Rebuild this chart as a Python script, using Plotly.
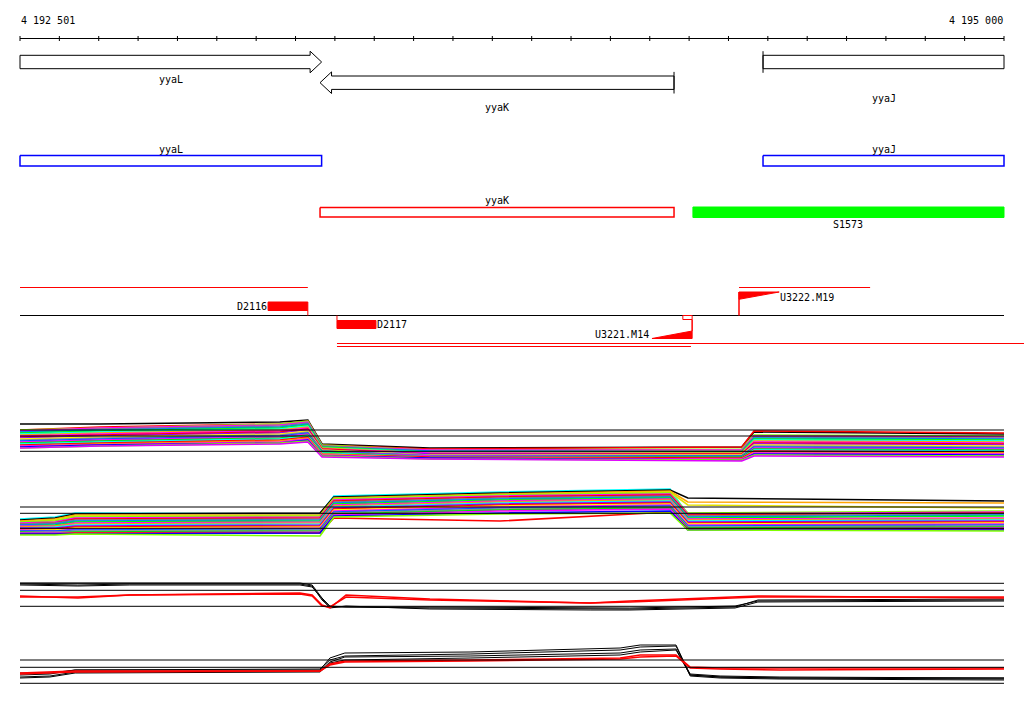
import plotly.graph_objects as go

# ---------------- data ----------------
VIEW_START, VIEW_END = 4192501, 4195000
ruler_labels = ["4 192 501", "4 195 000"]

gene_names = ["yyaL", "yyaK", "yyaJ"]
gene_starts = [4192300, 4193263, 4194388]
gene_ends = [4193267, 4194162, 4195300]
gene_strands = ["+", "-", "+"]

segment_names = ["S1573"]
segment_starts = [4194210]
segment_ends = [4195300]

probe_names = ["D2116", "D2117", "U3221.M14", "U3222.M19"]
probe_starts = [4193131, 4193306, 4194106, 4194327]
probe_ends = [4193232, 4193405, 4194208, 4194429]
probe_strands = ["+", "-", "-", "+"]
probe_kinds = ["block", "block", "ramp", "ramp"]

extent_starts = [4192501, 4193306, 4193306, 4194327]
extent_ends = [4193232, 4195051, 4194205, 4194660]
extent_strands = ["+", "-", "-", "+"]

# expression panel 1
p1_pos = [4192501, 4192704, 4193161, 4193232, 4193268, 4193542, 4194334, 4194365, 4195000]
p1_ref = [40, 34, 18.7]
p1_lines = [
    [46, 46, 48, 50, 26, 22, 23, 38, 36],
    [40, 43, 46, 49, 25, 21, 23, 39, 37],
    [40, 42, 46, 49, 25, 20, 21, 35, 34],
    [39, 42, 45, 48, 24, 20, 20, 34, 33],
    [38, 41, 44, 47, 24, 19, 19, 33, 32],
    [38, 40, 43, 46, 23, 19, 18, 32, 31],
    [37, 39, 42, 45, 23, 18, 18, 31, 30],
    [36, 38, 41, 44, 22, 18, 17, 30, 29],
    [35, 37, 40, 43, 22, 17, 17, 29, 28],
    [34, 36, 39, 42, 21, 17, 16, 28, 27],
    [33, 35, 38, 41, 21, 16, 16, 27, 26],
    [32, 34, 37, 40, 20, 16, 15, 26, 25],
    [31, 33, 36, 39, 20, 15, 15, 25, 24],
    [30, 32, 35, 38, 19, 15, 14, 24, 23],
    [29, 31, 34, 37, 19, 14, 14, 23, 22],
    [28, 30, 33, 36, 18, 14, 13, 22, 21],
    [27, 29, 32, 35, 18, 13, 13, 21, 20],
    [26, 28, 31, 34, 17, 13, 12, 20, 19],
    [25, 27, 30, 33, 16, 13, 12, 19, 18],
    [24, 26, 29, 32, 16, 12, 11, 18, 17],
    [24, 25, 28, 31, 15, 12, 11, 17, 16],
    [23, 25, 27, 30, 14, 12, 10, 16, 15],
    [22, 24, 27, 29, 14, 11, 10, 15, 14],
    [22, 24, 26, 28, 13, 11, 9, 14, 13],
]

# expression panel 2
p2_pos = [4192501, 4192590, 4192641, 4193263, 4193298, 4193720, 4194152, 4194197, 4195000]
p2_ref = [38, 31.7, 16.7]
p2_lines = [
    [26, 28, 32, 31, 49, 53, 56, 30, 32],
    [25, 27, 31, 32, 48, 52, 55, 47, 44],
    [24, 26, 30, 30, 47, 51, 54, 43, 42],
    [23, 25, 29, 29, 46, 50, 53, 40, 37],
    [23, 24, 28, 29, 46, 50, 52, 32, 34],
    [22, 23, 27, 28, 45, 49, 51, 31, 33],
    [21, 22, 26, 27, 44, 48, 50, 30, 32],
    [21, 22, 25, 26, 43, 47, 49, 29, 31],
    [20, 21, 24, 25, 42, 46, 48, 28, 30],
    [19, 20, 23, 24, 41, 45, 47, 27, 29],
    [19, 19, 22, 23, 40, 44, 46, 26, 27],
    [18, 19, 21, 22, 39, 43, 45, 25, 26],
    [17, 18, 20, 21, 38, 42, 44, 24, 25],
    [17, 17, 19, 20, 37, 41, 43, 23, 24],
    [16, 16, 18, 19, 36, 40, 42, 22, 23],
    [15, 15, 17, 18, 35, 39, 41, 21, 22],
    [15, 14, 16, 17, 34, 38, 40, 20, 21],
    [14, 14, 15, 16, 33, 37, 39, 19, 20],
    [13, 13, 14, 15, 32, 36, 38, 18, 19],
    [13, 12, 13, 14, 31, 35, 37, 17, 18],
    [12, 12, 12, 13, 30, 34, 36, 16, 17],
    [11, 11, 12, 12, 27, 24, 33, 16, 16],
    [11, 11, 11, 12, 29, 32, 34, 15, 15],
    [10, 10, 11, 9, 28, 31, 32, 15, 14],
]

# expression panel 3
p3_pos = [4192501, 4192648, 4192780, 4193212, 4193243, 4193268, 4193288, 4193329,
          4193542, 4193949, 4194050, 4194317, 4194375, 4195000]
p3_ref = [31.7, 24.7, 8.7]
p3_black = [
    [31, 30, 31, 31, 29, 15, 8, 8, 7, 6, 6, 8, 15, 16],
    [32, 32, 32, 32, 30, 17, 9, 8, 8, 7, 7, 9, 14, 15],
    [30, 29, 30, 30, 28, 16, 7, 9, 6, 5, 5, 7, 13, 14],
]
p3_red = [
    [18, 18, 20, 22, 20, 10, 7, 20, 16, 12, 14, 18, 19, 17],
    [19, 17, 20, 21, 19, 9, 8, 18, 15, 12, 13, 17, 18, 18],
]

# expression panel 4
p4_pos = [4192501, 4192577, 4192641, 4193263, 4193288, 4193326, 4193644,
          4194025, 4194076, 4194167, 4194203, 4194279, 4194431, 4195000]
p4_ref = [30, 22.7, 6.7]
p4_black = [
    [15, 16, 20, 20, 32, 37, 38, 42, 45, 45, 15, 13, 12, 11],
    [17, 17, 20, 21, 30, 34, 36, 40, 43, 44, 14, 12, 11, 10],
    [13, 14, 18, 19, 28, 33, 34, 37, 40, 41, 16, 14, 13, 12],
    [12, 13, 17, 18, 27, 30, 32, 35, 38, 40, 15, 13, 12, 12],
]
p4_red = [
    [17, 18, 19, 19, 26, 29, 30, 32, 35, 35, 23, 22, 22, 22],
    [16, 17, 18, 19, 25, 28, 29, 31, 33, 34, 22, 21, 20, 21],
]

# ---------------- layout / style ----------------
FIG_W, FIG_H = 1024, 714
PX_LEFT, PX_RIGHT = 20, 1004
BP_PER_PX = (VIEW_END - VIEW_START) / (PX_RIGHT - PX_LEFT)
X_MIN = VIEW_START - PX_LEFT * BP_PER_PX
X_MAX = X_MIN + FIG_W * BP_PER_PX
FONT = dict(family="DejaVu Sans Mono", size=10, color="black")

p1_colors = ["#000000", "#ff0000", "#80ff00", "#ff00ff", "#808080", "#0080ff",
             "#00ff00", "#00ffff", "#ffa500", "#ff00ff", "#ff0000", "#9000ff",
             "#ffff00", "#909090", "#0060ff", "#ff00ff", "#00e000", "#00ffff",
             "#ff0000", "#ff9900", "#ff00ff", "#0000ff", "#80ff00", "#e000ff"]
p2_colors = ["#00ffff", "#000000", "#ffa500", "#e0e000", "#80ff00", "#ff00ff",
             "#ff0000", "#808080", "#0080ff", "#00ff00", "#ff00ff", "#ff9900",
             "#00ffff", "#9000ff", "#ff0000", "#ffff00", "#ff00ff", "#0060ff",
             "#909090", "#00e000", "#ff00ff", "#ff0000", "#0000ff", "#80ff00"]

fig = go.Figure()
annotations = []


def seg(x0, x1, y0, y1, color="black", width=1, yaxis="y"):
    fig.add_trace(go.Scatter(x=[x0, x1], y=[y0, y1], mode="lines",
                             line=dict(color=color, width=width),
                             hoverinfo="skip", showlegend=False, yaxis=yaxis))


def poly(xs, ys, fill, line_color, width=1):
    fig.add_trace(go.Scatter(x=xs + [xs[0]], y=ys + [ys[0]], mode="lines",
                             fill="toself", fillcolor=fill,
                             line=dict(color=line_color, width=width),
                             hoverinfo="skip", showlegend=False))


def label(x, y, text, xanchor="center"):
    annotations.append(dict(x=x, y=y, xref="x", yref="y", text=text, showarrow=False,
                            xanchor=xanchor, yanchor="middle", font=FONT, borderpad=0))


def clip(v):
    return min(max(v, VIEW_START), VIEW_END)


# ruler
RULER_Y = 38.5
seg(VIEW_START, VIEW_END, RULER_Y, RULER_Y)
ticks = [VIEW_START + i * (VIEW_END - VIEW_START) / 25 for i in range(26)]
tx, ty = [], []
for t in ticks:
    tx += [t, t, None]
    ty += [36, 41, None]
fig.add_trace(go.Scatter(x=tx, y=ty, mode="lines", line=dict(color="black", width=1),
                         hoverinfo="skip", showlegend=False))
label(VIEW_START, 20, ruler_labels[0], "left")
label(VIEW_END, 20, ruler_labels[1], "right")

# gene arrows
row_center = {"+": 62, "-": 82.7}
label_y = [79, 107, 98]
BH, HH, HL = 6.7, 10.8, 11.5 * BP_PER_PX
for name, s, e, st, ly in zip(gene_names, gene_starts, gene_ends, gene_strands, label_y):
    cs, ce = clip(s), clip(e)
    yc = row_center[st]
    if st == "+":
        if e <= VIEW_END:
            xs = [cs, ce - HL, ce - HL, ce, ce - HL, ce - HL, cs]
            ys = [yc - BH, yc - BH, yc - HH, yc, yc + HH, yc + BH, yc + BH]
        else:
            xs = [cs, ce, ce, cs]
            ys = [yc - BH, yc - BH, yc + BH, yc + BH]
        poly(xs, ys, "white", "black")
        if s >= VIEW_START:
            seg(cs, cs, yc - HH, yc + HH)
    else:
        xs = [cs, cs + HL, cs + HL, ce, ce, cs + HL, cs + HL]
        ys = [yc, yc - HH, yc - BH, yc - BH, yc + BH, yc + BH, yc + HH]
        poly(xs, ys, "white", "black")
        if e <= VIEW_END:
            seg(ce, ce, yc - HH, yc + HH)
    label((cs + ce) / 2, ly, name)

# annotation boxes
box_rows = {"+": (155.5, 166, "#0000ff", 149.5), "-": (207.5, 217, "#ff0000", 200.5)}
for name, s, e, st in zip(gene_names, gene_starts, gene_ends, gene_strands):
    y0, y1, col, ly = box_rows[st]
    cs, ce = clip(s), clip(e)
    poly([cs, ce, ce, cs], [y0, y0, y1, y1], "white", col, 1.5)
    label((cs + ce) / 2, ly, name)

for name, s, e in zip(segment_names, segment_starts, segment_ends):
    cs, ce = clip(s), clip(e)
    poly([cs, ce, ce, cs], [207, 207, 217.5, 217.5], "#00ff00", "#00ff00")
    label((cs + ce) / 2, 224.5, name)

# probe track
AXIS_Y = 315.5
RED = "#ff0000"
seg(VIEW_START, VIEW_END, AXIS_Y, AXIS_Y)
extent_rows = [287.5, 343.5, 346.5, 287.5]
for s, e, y in zip(extent_starts, extent_ends, extent_rows):
    seg(s, e, y, y, RED, 1)

for name, s, e, st, kind in zip(probe_names, probe_starts, probe_ends, probe_strands, probe_kinds):
    if kind == "block":
        if st == "+":
            poly([s, e, e, s], [302, 302, 310.5, 310.5], RED, RED)
            seg(e, e, 310.5, AXIS_Y, RED)
            label(s - 0.5 * BP_PER_PX, 306.5, name, "right")
        else:
            poly([s, e, e, s], [320.5, 320.5, 328.5, 328.5], RED, RED)
            seg(s, s, AXIS_Y, 320.5, RED)
            label(e, 324.5, name, "left")
    else:
        if st == "+":
            seg(s, s, 292, AXIS_Y, RED, 1.5)
            poly([s, e, s], [292, 292, 299.3], RED, RED)
            label(e, 297, name, "left")
        else:
            w = 9.3 * BP_PER_PX
            poly([e - w, e, e, e - w], [AXIS_Y, AXIS_Y, 319.5, 319.5], "white", RED)
            seg(e, e, 319.5, 331, RED, 1.5)
            poly([s, e, e], [338.5, 338.5, 331], RED, RED)
            label(s - 2 * BP_PER_PX, 334, name, "right")

# expression panels
panels = [
    ("y2", 400, 470, 70),
    ("y3", 475, 545, 70),
    ("y4", 575, 615, 40),
    ("y5", 635, 690, 55),
]


def add_line(pos, vals, color, width, yaxis):
    fig.add_trace(go.Scatter(x=pos, y=vals, mode="lines", line=dict(color=color, width=width),
                             hoverinfo="skip", showlegend=False, yaxis=yaxis))


for vals, c in zip(p1_lines, p1_colors):
    add_line(p1_pos, vals, c, 1.6, "y2")
for vals, c in zip(p2_lines, p2_colors):
    add_line(p2_pos, vals, c, 1.6, "y3")
for vals in p3_black:
    add_line(p3_pos, vals, "black", 1, "y4")
for vals in p3_red:
    add_line(p3_pos, vals, RED, 1.5, "y4")
for vals in p4_black:
    add_line(p4_pos, vals, "black", 1, "y5")
for vals in p4_red:
    add_line(p4_pos, vals, RED, 1.5, "y5")

for refs, (ax, _, _, _) in zip([p1_ref, p2_ref, p3_ref, p4_ref], panels):
    for r in refs:
        seg(VIEW_START, VIEW_END, r, r, "black", 1, ax)

layout_axes = {}
for ax, top, bottom, height in panels:
    key = "yaxis" + ax[1:]
    layout_axes[key] = dict(domain=[1 - bottom / FIG_H, 1 - top / FIG_H], range=[0, height],
                            visible=False, fixedrange=True, anchor="x")

fig.update_layout(
    width=FIG_W, height=FIG_H, autosize=False,
    margin=dict(l=0, r=0, t=0, b=0),
    paper_bgcolor="white", plot_bgcolor="white",
    xaxis=dict(range=[X_MIN, X_MAX], visible=False, fixedrange=True),
    yaxis=dict(range=[FIG_H, 0], domain=[0, 1], visible=False, fixedrange=True),
    annotations=annotations,
    showlegend=False,
    **layout_axes,
)

fig.write_html("out.html", config={"displayModeBar": False},
               post_script="document.body.style.margin='0';document.body.style.padding='0';")
